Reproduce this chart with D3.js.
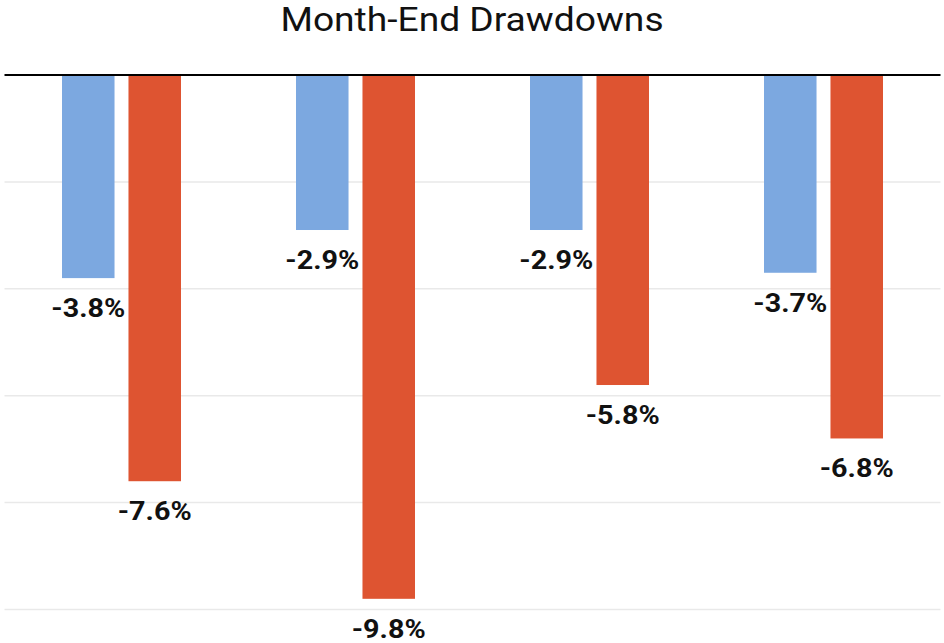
<!DOCTYPE html>
<html>
<head>
<meta charset="utf-8">
<script src="https://cdn.jsdelivr.net/npm/d3@7"></script>
<style>
  body { margin: 0; background: #fff; }
  svg { display: block; font-family: Roboto, "Noto Sans", sans-serif; }
</style>
</head>
<body>
<svg width="944" height="643"></svg>
<script>
const categories = ["Period 1", "Period 2", "Period 3", "Period 4"];
const seriesNames = ["Portfolio", "Benchmark"];
const portfolio = [-3.8, -2.9, -2.9, -3.7];
const benchmark = [-7.6, -9.8, -5.8, -6.8];
const yTicks = [0, -2, -4, -6, -8, -10];
const colors = ["#7ca8e0", "#de5431"];

const svg = d3.select("svg");

const plotLeft = 4.5, plotRight = 940.5;
const plotTop = 75, plotBottom = 609.5;

const x0 = d3.scaleBand()
             .domain(categories)
             .range([plotLeft, plotRight]);

const x1 = d3.scaleBand()
             .domain(seriesNames)
             .range([57.5, 176.5])
             .paddingInner(0.21);

const y = d3.scaleLinear()
            .domain([0, -10])
            .range([plotTop, plotBottom]);

// gridlines
svg.append("g")
   .selectAll("line")
   .data(yTicks.filter(d => d !== 0))
   .enter()
   .append("line")
   .attr("x1", plotLeft)
   .attr("x2", plotRight)
   .attr("y1", d => y(d))
   .attr("y2", d => y(d))
   .attr("stroke", "#e9e9e9")
   .attr("stroke-width", 1.5);

const rows = categories.map((c, i) => ({
  cat: c,
  vals: [portfolio[i], benchmark[i]]
}));

const groups = svg.selectAll(".grp")
                  .data(rows)
                  .enter()
                  .append("g")
                  .attr("class", "grp")
                  .attr("transform", d => `translate(${x0(d.cat)},0)`);

groups.selectAll("rect")
      .data(d => d.vals.map((v, j) => ({ name: seriesNames[j], v: v, j: j })))
      .enter()
      .append("rect")
      .attr("x", d => x1(d.name))
      .attr("width", x1.bandwidth())
      .attr("y", y(0))
      .attr("height", d => y(d.v) - y(0))
      .attr("fill", d => colors[d.j]);

// value labels (plain hyphen, as in the original)
groups.selectAll("text")
      .data(d => d.vals.map((v, j) => ({ name: seriesNames[j], v: v })))
      .enter()
      .append("text")
      .attr("transform", d => `translate(${x1(d.name) + x1.bandwidth() / 2},${y(d.v) + 39}) scale(1.15,1)`)
      .attr("text-anchor", "middle")
      .style("font-size", "25px")
      .style("font-weight", "bold")
      .style("fill", "#111")
      .text(d => d.v.toFixed(1) + "%");

// zero line
svg.append("line")
   .attr("x1", plotLeft)
   .attr("x2", plotRight)
   .attr("y1", y(0))
   .attr("y2", y(0))
   .attr("stroke", "#000")
   .attr("stroke-width", 2);

svg.append("text")
   .attr("transform", "translate(472,31) scale(1.11,1)")
   .attr("text-anchor", "middle")
   .style("font-size", "33.5px")
   .style("fill", "#111")
   .text("Month-End Drawdowns");
</script>
</body>
</html>
